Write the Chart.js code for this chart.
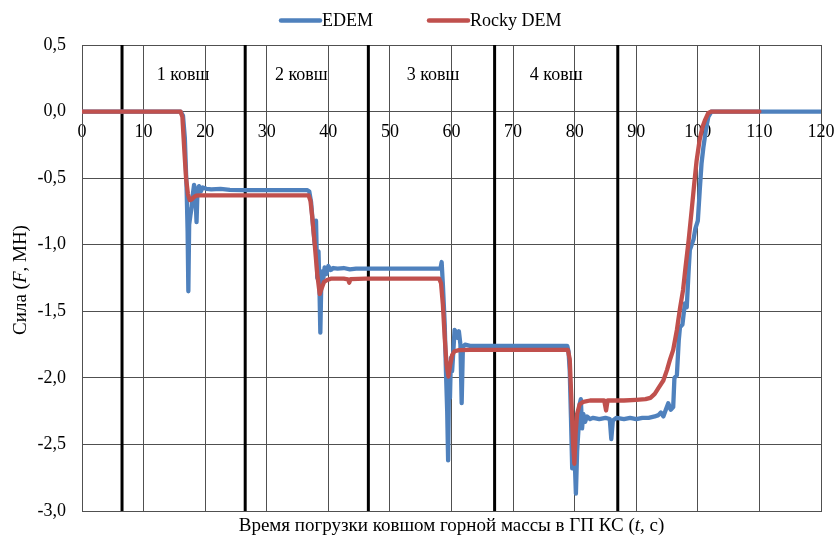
<!DOCTYPE html>
<html>
<head>
<meta charset="utf-8">
<script src="https://cdn.jsdelivr.net/npm/chart.js@4.4.1/dist/chart.umd.min.js"></script>
<style>
  html, body { margin: 0; padding: 0; background: #fff; }
  #wrap { width: 836px; height: 535px; }
</style>
</head>
<body>
<div id="wrap"><canvas id="c" width="836" height="535"></canvas></div>
<script>
// ---- data ----
const seriesNames = ['EDEM', 'Rocky DEM'];
const timeEdem = [0,16.0,16.4,16.7,17.0,17.15,17.27,17.4,17.6,17.8,18.0,18.2,18.4,18.6,18.75,19.0,19.3,19.6,20.2,21.0,22.5,24.0,26.0,30.0,34.0,36.6,36.9,37.2,37.5,37.8,38.0,38.2,38.4,38.55,38.7,38.85,39.0,39.2,39.4,39.7,40.0,40.4,40.8,41.5,42.5,43.5,44.5,46,50,54,58.2,58.4,58.6,58.9,59.1,59.3,59.45,59.6,59.75,59.9,60.1,60.3,60.5,60.8,61.0,61.2,61.45,61.65,61.85,62.2,63.0,66,70,74,78.8,79.0,79.2,79.4,79.6,79.8,80.0,80.2,80.4,80.6,80.8,81.0,81.2,81.4,81.7,82.0,82.5,83.0,84.0,85.0,85.7,85.95,86.2,86.8,88,89,90,91,92,93,93.6,94.0,94.4,94.8,95.2,95.6,96.0,96.2,96.6,96.9,97.1,97.5,97.9,98.2,98.5,98.7,99.0,99.3,99.6,100.0,100.3,100.6,100.9,101.3,101.7,102.2,110,120];
const forceEdem = [0,0,-0.03,-0.2,-0.6,-0.9,-1.35,-0.85,-0.78,-0.72,-0.62,-0.55,-0.6,-0.83,-0.6,-0.56,-0.6,-0.57,-0.58,-0.585,-0.58,-0.588,-0.59,-0.59,-0.59,-0.59,-0.6,-0.68,-0.85,-1.0,-0.82,-1.25,-1.05,-1.3,-1.66,-1.3,-1.2,-1.25,-1.17,-1.22,-1.16,-1.19,-1.175,-1.18,-1.175,-1.185,-1.18,-1.18,-1.18,-1.18,-1.18,-1.13,-1.3,-1.6,-1.95,-2.25,-2.62,-2.0,-2.15,-1.85,-1.95,-1.8,-1.64,-1.66,-1.7,-1.65,-1.75,-2.19,-1.77,-1.75,-1.76,-1.76,-1.76,-1.76,-1.76,-1.8,-1.95,-2.3,-2.68,-2.45,-2.6,-2.87,-2.55,-2.4,-2.2,-2.16,-2.38,-2.27,-2.33,-2.29,-2.31,-2.3,-2.31,-2.3,-2.31,-2.46,-2.32,-2.3,-2.31,-2.3,-2.31,-2.3,-2.3,-2.29,-2.28,-2.26,-2.29,-2.24,-2.19,-2.24,-2.22,-2.0,-1.98,-1.72,-1.62,-1.6,-1.44,-1.47,-1.2,-1.04,-1.0,-0.96,-0.88,-0.82,-0.6,-0.39,-0.27,-0.14,-0.04,0,0,0];
const timeRocky = [0,16.0,16.3,16.6,16.9,17.2,17.5,17.8,18.1,18.5,19.2,22,26,30,34,36.8,37.1,37.4,37.8,38.2,38.6,38.9,39.3,39.8,40.4,42.5,43.2,43.4,43.6,46,50,54,58.0,58.3,58.6,58.9,59.2,59.5,59.8,60.1,60.5,61.2,63,70,78.9,79.2,79.5,79.75,79.95,80.15,80.4,80.8,81.4,82.5,84.8,85.1,85.35,88,90,91.5,92.3,93.0,93.7,94.4,95.0,95.5,96.0,96.6,97.1,97.6,98.0,98.5,99.0,99.4,99.8,100.3,100.8,101.2,101.7,102.2,110];
const forceRocky = [0,0,-0.04,-0.28,-0.5,-0.62,-0.665,-0.66,-0.645,-0.632,-0.63,-0.63,-0.63,-0.63,-0.63,-0.63,-0.67,-0.8,-1.0,-1.22,-1.37,-1.33,-1.28,-1.265,-1.255,-1.255,-1.26,-1.285,-1.258,-1.255,-1.255,-1.255,-1.255,-1.29,-1.45,-1.7,-1.9,-1.99,-1.9,-1.83,-1.8,-1.792,-1.79,-1.79,-1.79,-1.86,-2.2,-2.5,-2.645,-2.42,-2.27,-2.2,-2.18,-2.17,-2.17,-2.245,-2.17,-2.17,-2.165,-2.16,-2.15,-2.12,-2.07,-2.02,-1.94,-1.86,-1.79,-1.64,-1.48,-1.34,-1.17,-0.97,-0.74,-0.55,-0.37,-0.21,-0.11,-0.06,-0.01,0,0];
const stageBounds = [6.5, 26.5, 46.5, 67, 87];
const stageLabels = ['1 ковш', '2 ковш', '3 ковш', '4 ковш'];
const stageLabelX = [16.4, 35.6, 57, 77];
const stageLabelY = 0.27;
const xTitle = ['Время погрузки ковшом горной массы в ГП КС (', 't', ', с)'];
const yTitle = ['Сила (', 'F', ', МН)'];
const xMin = 0, xMax = 120, xStep = 10;
const yMin = -3.0, yMax = 0.5, yStep = 0.5;

// ---- styles ----
const colors = ['#4F81BD', '#C0504D'];
const FONT = '"Liberation Serif", "Times New Roman", serif';
const gridColor = '#505050';

const toPts = (xs, ys) => xs.map((x, i) => ({x: x, y: ys[i]}));

const datasets = [
  { label: seriesNames[0], data: toPts(timeEdem, forceEdem), borderColor: colors[0], backgroundColor: colors[0],
    borderWidth: 4.3, pointRadius: 0, tension: 0, order: 1, borderJoinStyle: 'round', borderCapStyle: 'round' },
  { label: seriesNames[1], data: toPts(timeRocky, forceRocky), borderColor: colors[1], backgroundColor: colors[1],
    borderWidth: 4.3, pointRadius: 0, tension: 0, order: 0, borderJoinStyle: 'round', borderCapStyle: 'round' }
];
stageBounds.forEach((b, i) => {
  datasets.push({ label: 'bound' + i, data: [{x: b, y: yMin}, {x: b, y: yMax}], borderColor: '#000',
    borderWidth: 3, pointRadius: 0, order: 5, isBound: true });
});

const decor = {
  id: 'decor',
  afterDatasetsDraw(chart) {
    const ctx = chart.ctx, xs = chart.scales.x, ys = chart.scales.y;
    ctx.save();
    ctx.fillStyle = '#000';
    ctx.font = '18px ' + FONT;
    ctx.textAlign = 'center';
    ctx.textBaseline = 'middle';
    stageLabels.forEach((t, i) => {
      ctx.fillText(t, xs.getPixelForValue(stageLabelX[i]), ys.getPixelForValue(stageLabelY));
    });
    ctx.restore();
  },
  afterDraw(chart) {
    const ctx = chart.ctx, area = chart.chartArea;
    ctx.save();
    ctx.fillStyle = '#000';
    ctx.textBaseline = 'middle';
    // legend
    const legX = [280, 428];
    seriesNames.forEach((n, i) => {
      ctx.strokeStyle = colors[i];
      ctx.lineWidth = 4.5;
      ctx.lineCap = 'round';
      ctx.beginPath();
      ctx.moveTo(legX[i] + 1, 20.5);
      ctx.lineTo(legX[i] + 40, 20.5);
      ctx.stroke();
      ctx.font = '18px ' + FONT;
      ctx.textAlign = 'left';
      ctx.fillText(n, legX[i] + 42, 21);
    });
    // mixed-style titles
    const drawParts = (parts, cx, cy, size) => {
      const fonts = [size + 'px ' + FONT, 'italic ' + size + 'px ' + FONT, size + 'px ' + FONT];
      let widths = parts.map((p, i) => { ctx.font = fonts[i]; return ctx.measureText(p).width; });
      let total = widths.reduce((a, b) => a + b, 0);
      let x = cx - total / 2;
      ctx.textAlign = 'left';
      parts.forEach((p, i) => { ctx.font = fonts[i]; ctx.fillText(p, x, cy); x += widths[i]; });
    };
    drawParts(xTitle, (area.left + area.right) / 2, 526, 19);
    ctx.save();
    ctx.translate(21, (area.top + area.bottom) / 2 + 2);
    ctx.rotate(-Math.PI / 2);
    drawParts(yTitle, 0, 0, 19);
    ctx.restore();
    ctx.restore();
  }
};

const fmt = v => (Math.round(v * 10) / 10).toFixed(1).replace('.', ',');

new Chart(document.getElementById('c'), {
  type: 'line',
  data: { datasets },
  options: {
    responsive: false,
    animation: false,
    devicePixelRatio: 1,
    layout: { padding: { left: 0, right: 15, top: 45, bottom: 24 } },
    plugins: { legend: { display: false }, tooltip: { enabled: false } },
    scales: {
      x: {
        type: 'linear', position: 'bottom', min: xMin, max: xMax,
        ticks: { display: false, stepSize: xStep },
        grid: { color: gridColor, lineWidth: 1, drawTicks: false },
        border: { display: true, color: gridColor },
        afterFit: s => { s.height = 0; s.paddingLeft = 0; s.paddingRight = 0; s.paddingTop = 0; s.paddingBottom = 0; }
      },
      x2: {
        type: 'linear', axis: 'x', position: { y: 0 }, min: xMin, max: xMax,
        ticks: { stepSize: xStep, color: '#000', font: { family: FONT, size: 18 }, padding: 10, maxRotation: 0, autoSkip: false },
        grid: { display: false, drawTicks: false },
        border: { display: false },
        afterFit: s => { s.paddingLeft = 0; s.paddingRight = 0; s.paddingTop = 0; s.paddingBottom = 0; }
      },
      y: {
        type: 'linear', position: 'left', min: yMin, max: yMax,
        ticks: { stepSize: yStep, color: '#000', font: { family: FONT, size: 18 }, padding: 16, callback: v => fmt(v) },
        grid: { color: gridColor, lineWidth: 1, drawTicks: false },
        border: { display: true, color: gridColor },
        afterFit: s => { s.width = 82; s.paddingTop = 0; s.paddingBottom = 0; s.paddingLeft = 0; s.paddingRight = 0; }
      }
    }
  },
  plugins: [decor]
});
</script>
</body>
</html>
